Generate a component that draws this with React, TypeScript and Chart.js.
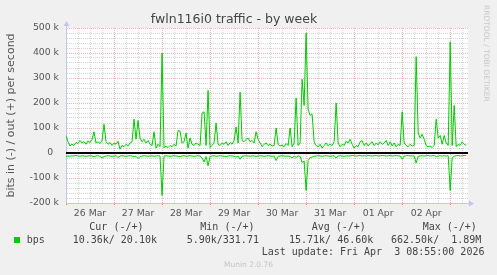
import React, { useEffect, useRef } from 'react';
import { Chart, registerables } from 'chart.js';

Chart.register(...registerables);

// ---- data -------------------------------------------------------------
const chartTitle = 'fwln116i0 traffic - by week';
const yAxisTitle = 'bits in (-) / out (+) per second';
const dayLabels = ['26 Mar', '27 Mar', '28 Mar', '29 Mar', '30 Mar', '31 Mar', '01 Apr', '02 Apr'];
const spanHours = 200.9; // 26 Mar 00:00 -> 03 Apr 08:55

// hourly samples, kbit/s (out = positive, in = negative)
const outKbps = [
  70, 45, 28, 35, 30, 42, 38, 50, 40, 45,
  35, 48, 42, 55, 85, 40, 45, 38, 50, 115,
  45, 35, 42, 30, 40, 35, 47, 15, 30, 25,
  35, 28, 40, 45, 135, 55, 130, 60, 45, 55,
  40, 50, 35, 30, 85, 20, 35, 25, 400, 20,
  28, 22, 30, 25, 35, 28, 90, 88, 40, 45,
  80, 20, 60, 35, 30, 40, 35, 30, 160, 165,
  30, 250, 22, 30, 40, 120, 35, 30, 40, 35,
  45, 30, 42, 35, 50, 104, 40, 243, 50, 45,
  55, 60, 45, 50, 40, 85, 55, 40, 25, 35,
  40, 30, 35, 28, 30, 100, 35, 28, 32, 25,
  38, 30, 100, 25, 40, 220, 30, 40, 295, 190,
  480, 175, 150, 155, 45, 30, 25, 35, 20, 30,
  40, 28, 35, 30, 45, 200, 40, 25, 35, 30,
  47, 40, 55, 35, 20, 30, 25, 45, 50, 30,
  40, 28, 38, 45, 30, 40, 33, 45, 35, 40,
  50, 30, 45, 28, 40, 25, 35, 30, 165, 40,
  30, 25, 35, 28, 30, 385, 80, 60, 75, 55,
  30, 25, 28, 22, 30, 135, 60, 70, 35, 70,
  40, 30, 445, 30, 190, 25, 35, 30, 45, 35,
  30,
];

const inKbps = [
  -14, -12, -13, -11, -12, -10, -12, -13, -11, -12,
  -13, -12, -11, -12, -14, -12, -11, -13, -20, -14,
  -12, -11, -12, -13, -12, -11, -18, -12, -11, -12,
  -13, -12, -11, -12, -14, -13, -22, -14, -12, -11,
  -12, -13, -12, -11, -13, -12, -11, -12, -170, -12,
  -11, -12, -13, -12, -11, -12, -13, -14, -12, -11,
  -13, -12, -11, -12, -13, -12, -11, -12, -20, -36,
  -14, -51, -13, -12, -11, -13, -12, -11, -12, -13,
  -15, -12, -11, -12, -13, -16, -12, -25, -13, -12,
  -11, -12, -13, -12, -11, -14, -12, -11, -12, -13,
  -12, -11, -12, -13, -12, -30, -14, -12, -11, -12,
  -13, -12, -14, -20, -12, -18, -12, -13, -38, -32,
  -150, -30, -18, -16, -13, -12, -11, -12, -13, -12,
  -11, -12, -13, -12, -11, -20, -12, -11, -12, -13,
  -12, -11, -12, -10, -11, -12, -11, -10, -12, -11,
  -12, -10, -11, -12, -11, -10, -12, -11, -10, -11,
  -12, -11, -10, -12, -11, -10, -12, -11, -25, -12,
  -11, -10, -12, -11, -12, -40, -13, -12, -11, -12,
  -11, -10, -12, -11, -10, -14, -12, -11, -12, -11,
  -12, -11, -150, -20, -12, -11, -10, -12, -11, -10,
  -11,
];

const legendName = 'bps';
const legendHeaders = ['Cur (-/+)', 'Min (-/+)', 'Avg (-/+)', 'Max (-/+)'];
const legendValues = ['10.36k/ 20.10k', '5.90k/331.71', '15.71k/ 46.60k', '662.50k/  1.89M'];
const lastUpdate = 'Last update: Fri Apr  3 08:55:00 2026';
const footer = 'Munin 2.0.76';
const watermark = 'RRDTOOL / TOBI OETIKER';

// ---- style ------------------------------------------------------------
const GREEN = '#00CC00';
const AXIS = '#C4C4F4';
const MAJOR = 'rgba(235,130,130,0.6)';
const MINOR = 'rgba(200,200,200,0.8)';
const TEXT = '#555';
const SANS = '"DejaVu Sans", sans-serif';
const MONO = '"DejaVu Sans Mono", monospace';

const headerLeft = [89.3, 200.3, 311.7, 422.7];
const valueLeft = [72.7, 186.7, 289, 391];

const rrdPlugin = {
  id: 'rrdDecor',
  beforeDraw(chart: any) {
    const { ctx, chartArea: a } = chart;
    ctx.save();
    ctx.fillStyle = '#ffffff';
    ctx.fillRect(a.left, a.top, a.right - a.left, a.bottom - a.top);
    ctx.restore();
  },
  afterDraw(chart: any) {
    const { ctx, chartArea: a } = chart;
    ctx.save();
    ctx.strokeStyle = AXIS;
    ctx.fillStyle = AXIS;
    ctx.lineWidth = 1;
    const yb = Math.round(a.bottom) + 0.5;
    ctx.beginPath();
    ctx.moveTo(a.right, yb);
    ctx.lineTo(a.right + 2, yb);
    ctx.stroke();
    ctx.beginPath();
    ctx.moveTo(a.right + 6, yb);
    ctx.lineTo(a.right + 1, yb - 3);
    ctx.lineTo(a.right + 1, yb + 3);
    ctx.closePath();
    ctx.fill();
    const xl = Math.round(a.left) + 0.5;
    ctx.beginPath();
    ctx.moveTo(xl, a.top);
    ctx.lineTo(xl, a.top - 2);
    ctx.stroke();
    ctx.beginPath();
    ctx.moveTo(xl, a.top - 7);
    ctx.lineTo(xl - 3, a.top - 2);
    ctx.lineTo(xl + 3, a.top - 2);
    ctx.closePath();
    ctx.fill();
    ctx.restore();
  },
};

export default function App() {
  const canvasRef = useRef<HTMLCanvasElement | null>(null);

  useEffect(() => {
    if (!canvasRef.current) return;
    const outData = outKbps.map((v, i) => ({ x: i, y: v }));
    const inData = inKbps.map((v, i) => ({ x: i, y: v }));
    const chart = new Chart(canvasRef.current, {
      type: 'line',
      data: {
        datasets: [
          {
            label: 'zero',
            data: [
              { x: 0, y: 0 },
              { x: spanHours, y: 0 },
            ],
            borderColor: '#000000',
            borderWidth: 2,
            pointRadius: 0,
          },
          {
            label: 'out',
            data: outData,
            borderColor: GREEN,
            borderWidth: 1,
            pointRadius: 0,
            tension: 0,
          },
          {
            label: 'in',
            data: inData,
            borderColor: GREEN,
            borderWidth: 1,
            pointRadius: 0,
            tension: 0,
          },
        ],
      },
      options: {
        animation: false,
        responsive: false,
        events: [],
        layout: { padding: { left: 0, right: 29, top: 0, bottom: 0 } },
        plugins: {
          legend: { display: false },
          tooltip: { enabled: false },
          title: {
            display: true,
            text: chartTitle,
            color: '#444',
            font: { family: SANS, size: 12.5, weight: 'normal' as any },
            padding: { top: 12, bottom: 1 },
          },
        },
        scales: {
          x: {
            type: 'linear',
            min: 0,
            max: spanHours,
            afterFit: (s: any) => {
              s.height = 72;
            },
            border: { display: true, color: AXIS, width: 1, dash: [1, 1] },
            grid: {
              color: (c: any) => (c.tick && c.tick.value % 24 === 0 ? MAJOR : MINOR),
              tickColor: (c: any) => (c.tick && c.tick.value % 24 === 0 ? 'rgba(240,100,100,0.9)' : 'rgba(0,0,0,0)'),
              tickLength: 2,
              drawTicks: true,
            },
            ticks: {
              stepSize: 6,
              autoSkip: false,
              maxRotation: 0,
              includeBounds: false,
              padding: 3,
              color: TEXT,
              font: { family: SANS, size: 9.3 },
              callback: (v: any) => {
                const n = Number(v);
                if (n % 24 !== 12) return '';
                return dayLabels[(n - 12) / 24] ?? '';
              },
            },
          },
          y: {
            type: 'linear',
            min: -200,
            max: 500,
            afterFit: (s: any) => {
              s.width = 66;
            },
            border: { display: true, color: AXIS, width: 1, dash: [1, 1] },
            grid: {
              color: (c: any) => (c.tick && c.tick.value % 100 === 0 ? MAJOR : MINOR),
              drawTicks: false,
            },
            title: {
              display: true,
              text: yAxisTitle,
              color: TEXT,
              font: { family: SANS, size: 11 },
              padding: { top: 4.4, bottom: 0 },
            },
            ticks: {
              stepSize: 20,
              autoSkip: false,
              padding: 7,
              color: TEXT,
              font: { family: SANS, size: 9.3 },
              callback: (v: any) => {
                const n = Number(v);
                if (n % 100 !== 0) return '';
                return n === 0 ? '0  ' : `${n} k`;
              },
            },
          },
        },
      },
      plugins: [rrdPlugin],
    });
    return () => chart.destroy();
  }, []);

  const text = (extra: React.CSSProperties): React.CSSProperties => ({
    position: 'absolute',
    font: `10px ${MONO}`,
    lineHeight: '12px',
    whiteSpace: 'pre',
    color: '#444',
    ...extra,
  });

  return (
    <div
      style={{
        position: 'fixed',
        left: 0,
        top: 0,
        width: 497,
        height: 275,
        background: '#F0F0F0',
        overflow: 'hidden',
      }}
    >
      <canvas ref={canvasRef} width={497} height={275} style={{ display: 'block' }} />
      {legendHeaders.map((h, i) => (
        <div key={h} style={text({ left: headerLeft[i], top: 221.3 })}>
          {h}
        </div>
      ))}
      <div
        style={{ position: 'absolute', left: 14, top: 237, width: 6, height: 6, background: GREEN }}
      />
      <div style={text({ left: 26.7, top: 233.7 })}>{legendName}</div>
      {legendValues.map((v, i) => (
        <div key={v} style={text({ left: valueLeft[i], top: 233.7 })}>
          {v}
        </div>
      ))}
      <div style={text({ left: 261.7, top: 245.7 })}>{lastUpdate}</div>
      <div
        style={{
          position: 'absolute',
          left: 0,
          width: 497,
          top: 259.5,
          textAlign: 'center',
          font: `7.5px ${SANS}`,
          lineHeight: '9px',
          color: '#c4c4c4',
          whiteSpace: 'pre',
        }}
      >
        {footer}
      </div>
      <div
        style={{
          position: 'absolute',
          left: 482.2,
          top: 5,
          writingMode: 'vertical-rl',
          font: `7.5px ${SANS}`,
          lineHeight: '9px',
          color: '#c8c8c8',
          whiteSpace: 'pre',
        }}
      >
        {watermark}
      </div>
    </div>
  );
}
